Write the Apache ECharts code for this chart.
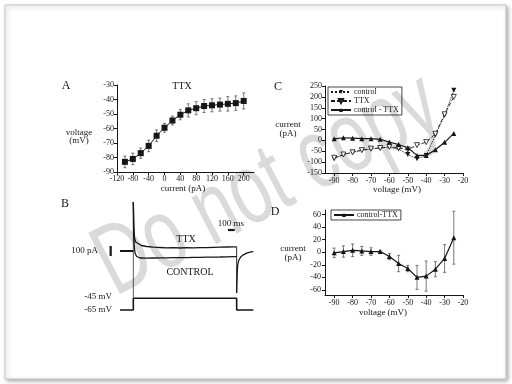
<!DOCTYPE html>
<html><head><meta charset="utf-8">
<script src="https://cdn.jsdelivr.net/npm/echarts@6/dist/echarts.min.js"></script>
<style>html,body{margin:0;padding:0;background:#fff}#c{width:512px;height:384px}</style>
</head><body><div id="c"></div>
<script>
// ---- Panel A: TTX current-voltage (current clamp)
const aCurrent = [-100,-80,-60,-40,-20,0,20,40,60,80,100,120,140,160,180,200];
const aVoltage = [-83,-81,-77,-72,-65,-59.5,-54.5,-50.5,-47.5,-46,-44.5,-44,-43.5,-43,-42.5,-41];
const aErr     = [4,4,3.5,4,4,3,3,3.5,4.5,4.5,4.5,4.5,4.5,5,5,5.5];
const aXTicks = [-120,-80,-40,0,40,80,120,160,200];

// ---- Panel C: I-V curves
const cVolt = [-90,-85,-80,-75,-70,-65,-60,-55,-50,-45,-40,-35,-30,-25];
const cControl = [-85,-65,-55,-45,-40,-35,-30,-40,-65,-85,-70,25,115,230];
const cTTX     = [-80,-65,-55,-45,-38,-35,-30,-35,-42,-22,-8,30,120,200];
const cDiff    = [7,12,10,8,8,5,-8,-19,-34,-69,-69,-43,-9,32];
const cvTicks = [-90,-80,-70,-60,-50,-40,-30,-20];

// ---- Panel D: control-TTX with error bars
const dVolt = [-90,-85,-80,-75,-70,-65,-60,-55,-50,-45,-40,-35,-30,-25];
const dDiff = [-1,1,3,2,1,1,-7,-18,-26,-40,-38,-27,-10,23];
const dErr  = [7.5,9,10,7,6,2,5,13,5,19,24,12,22,42];
const dYTicks = [-60,-40,-20,0,20,40,60];

// ---- Panel B: traces (time ms, current pA / voltage mV)
const bBaseline = [[300,0],[500,0]];
const bOnset = [[500,490],[500,-470]];
const bTTX = [[500,490],[508,250],[518,130],[535,90],[565,70],[620,55],[700,45],[800,38],[900,35],[1000,32],[1100,34],[1200,30],[1300,33],[1400,31],[1500,34],[1600,33],[1700,36],[1800,38],[1900,40],[2000,42],[2050,42]];
const bControl = [[500,490],[504,200],[512,60],[525,-20],[550,-55],[600,-70],[700,-72],[800,-70],[900,-69],[1000,-68],[1100,-67],[1200,-66],[1300,-66],[1400,-64],[1500,-63],[1600,-62],[1700,-61],[1800,-60],[1900,-58],[2000,-57],[2050,-57]];
const bOffset = [[2050,42],[2050,-420]];
const bTail = [[2050,-420],[2056,-250],[2064,-150],[2080,-95],[2110,-60],[2150,-38],[2200,-22],[2250,-12],[2300,-6]];
const bVoltage = [[300,-65],[500,-65],[500,-45],[2050,-45],[2050,-65],[2300,-65]];
const bScalePA = [[160,50],[160,-50]];
const bScaleMS = [[1920,210],[2020,210]];

const INK = '#161616';
const SERIF = '"Liberation Serif","Times New Roman",serif';
const DOWN_TRI = 'path://M0,0L10,0L5,9Z';
const chart = echarts.init(document.getElementById('c'), null, {renderer:'canvas'});

function axisCommon(extra){
  return Object.assign({
    axisLine:{show:true,onZero:false,lineStyle:{color:INK,width:1}},
    axisTick:{show:true,inside:false,length:3,lineStyle:{color:INK,width:1}},
    axisLabel:{fontSize:8,color:INK,fontFamily:SERIF,margin:3},
    splitLine:{show:false}
  }, extra);
}
function errBars(xi, yi, xs, ys, es){
  return {
    type:'custom', xAxisIndex:xi, yAxisIndex:yi, z:1, silent:true,
    data: xs.map((x,i)=>[x, ys[i]-es[i], ys[i]+es[i]]),
    renderItem:(p,api)=>{
      const a=api.coord([api.value(0),api.value(1)]), b=api.coord([api.value(0),api.value(2)]);
      const s={stroke:'#555',lineWidth:0.8};
      return {type:'group',children:[
        {type:'line',shape:{x1:a[0],y1:a[1],x2:b[0],y2:b[1]},style:s},
        {type:'line',shape:{x1:a[0]-1.5,y1:a[1],x2:a[0]+1.5,y2:a[1]},style:s},
        {type:'line',shape:{x1:b[0]-1.5,y1:b[1],x2:b[0]+1.5,y2:b[1]},style:s}
      ]};
    }
  };
}
function txt(x,y,t,size,align){
  return {type:'text',x:x,y:y,z:10,style:{text:t,font:size+'px '+SERIF,fill:INK,textAlign:align||'center',textVerticalAlign:'middle'}};
}
function bLine(data, w, yi){
  return {type:'line',xAxisIndex:3,yAxisIndex:yi||3,data:data,symbol:'none',animation:false,lineStyle:{color:INK,width:w}};
}

const option = {
  animation:false,
  graphic:[
    {type:'rect',z:-20,shape:{x:5,y:5,width:501,height:374},style:{fill:'#fff',stroke:'#c4c4c4',lineWidth:1,shadowBlur:4,shadowOffsetX:1.5,shadowOffsetY:1.5,shadowColor:'rgba(0,0,0,0.3)'}},
    {type:'text',z:-10,x:268,y:186,rotation:0.48,scaleX:0.7,style:{text:'Do not copy',font:'100px "Liberation Sans",Arial,sans-serif',fill:'#dadada',textAlign:'center',textVerticalAlign:'middle'}},
    txt(66,86,'A',12), txt(182,86,'TTX',10),
    txt(79,133,'voltage',9), txt(79,141,'(mV)',9),
    txt(183,189,'current (pA)',9),
    txt(278,87,'C',12),
    txt(288,125,'current',9), txt(288,134,'(pA)',9),
    txt(397,190,'voltage (mV)',9),
    txt(275,212,'D',12),
    txt(293,249,'current',9), txt(293,258,'(pA)',9),
    txt(383,313,'voltage (mV)',9),
    txt(65,204,'B',12),
    txt(98,251,'100 pA',9,'right'),
    txt(112,297,'-45 mV',9,'right'),
    txt(112,310,'-65 mV',9,'right'),
    txt(186,239,'TTX',10),
    txt(190,272,'CONTROL',10),
    txt(231,224,'100 ms',9)
  ],
  grid:[
    {left:117,top:85,width:137,height:87},
    {left:325,top:86,width:138,height:87},
    {left:325,top:210,width:138,height:85},
    {left:100,top:200,width:160,height:115}
  ],
  xAxis:[
    axisCommon({type:'value',gridIndex:0,min:-120,max:226,
      axisLabel:{fontSize:8,color:INK,fontFamily:SERIF,margin:3,customValues:aXTicks},
      axisTick:{show:true,length:3,lineStyle:{color:INK},customValues:aXTicks}}),
    axisCommon({type:'value',gridIndex:1,min:-95,max:-20,
      axisLabel:{fontSize:8,color:INK,fontFamily:SERIF,margin:4,customValues:cvTicks},
      axisTick:{show:true,length:3,lineStyle:{color:INK},customValues:cvTicks}}),
    axisCommon({type:'value',gridIndex:2,min:-95,max:-20,
      axisLabel:{fontSize:8,color:INK,fontFamily:SERIF,margin:4,customValues:cvTicks},
      axisTick:{show:true,length:3,lineStyle:{color:INK},customValues:cvTicks}}),
    {type:'value',gridIndex:3,min:0,max:2400,show:false}
  ],
  yAxis:[
    axisCommon({type:'value',gridIndex:0,min:-90,max:-30,interval:10}),
    axisCommon({type:'value',gridIndex:1,min:-150,max:250,interval:50}),
    axisCommon({type:'value',gridIndex:2,min:-68,max:67,
      axisLabel:{fontSize:8,color:INK,fontFamily:SERIF,margin:4,customValues:dYTicks},
      axisTick:{show:true,length:3,lineStyle:{color:INK},customValues:dYTicks}}),
    {type:'value',gridIndex:3,min:-640,max:510,show:false},
    {type:'value',gridIndex:3,min:-73.5,max:123,show:false}
  ],
  legend:[
    {left:328,top:87,orient:'vertical',itemGap:1,itemWidth:20,itemHeight:5,padding:[1,3,1,2],
     borderColor:INK,borderWidth:0.8,textStyle:{fontSize:8,fontFamily:SERIF,color:INK,padding:[0,0,0,-2]},
     data:['control','TTX','control - TTX']},
    {left:331,top:210,orient:'vertical',itemWidth:20,itemHeight:5,padding:[1,3,1,2],
     borderColor:INK,borderWidth:0.8,textStyle:{fontSize:8,fontFamily:SERIF,color:INK,padding:[0,0,0,-2]},
     data:['control-TTX']}
  ],
  series:[
    errBars(0,0,aCurrent,aVoltage,aErr),
    {type:'line',name:'A',xAxisIndex:0,yAxisIndex:0,data:aCurrent.map((x,i)=>[x,aVoltage[i]]),
     symbol:'rect',symbolSize:6,itemStyle:{color:INK},lineStyle:{color:INK,width:1}},
    {type:'line',name:'control',xAxisIndex:1,yAxisIndex:1,data:cVolt.map((x,i)=>[x,cControl[i]]),
     symbol:DOWN_TRI,symbolSize:[5,5],itemStyle:{color:INK},lineStyle:{color:INK,width:1,type:'dotted'}},
    {type:'line',name:'TTX',xAxisIndex:1,yAxisIndex:1,data:cVolt.map((x,i)=>[x,cTTX[i]]),
     symbol:DOWN_TRI,symbolSize:[5,5],itemStyle:{color:'#fff',borderColor:INK,borderWidth:0.8},lineStyle:{color:INK,width:0.9,type:[4,2]}},
    {type:'line',name:'control - TTX',xAxisIndex:1,yAxisIndex:1,data:cVolt.map((x,i)=>[x,cDiff[i]]),
     symbol:'triangle',symbolSize:5,itemStyle:{color:INK},lineStyle:{color:INK,width:1.2}},
    errBars(2,2,dVolt,dDiff,dErr),
    {type:'line',name:'control-TTX',xAxisIndex:2,yAxisIndex:2,data:dVolt.map((x,i)=>[x,dDiff[i]]),
     symbol:'triangle',symbolSize:5,itemStyle:{color:INK},lineStyle:{color:INK,width:1.2}},
    bLine(bBaseline,2), bLine(bOnset,0.7), bLine(bTTX,1.3), bLine(bControl,1.3),
    bLine(bOffset,0.9), bLine(bTail,1.3), bLine(bScalePA,2.2), bLine(bScaleMS,2.2),
    bLine(bVoltage,1.6,4)
  ]
};
chart.setOption(option);
</script></body></html>
